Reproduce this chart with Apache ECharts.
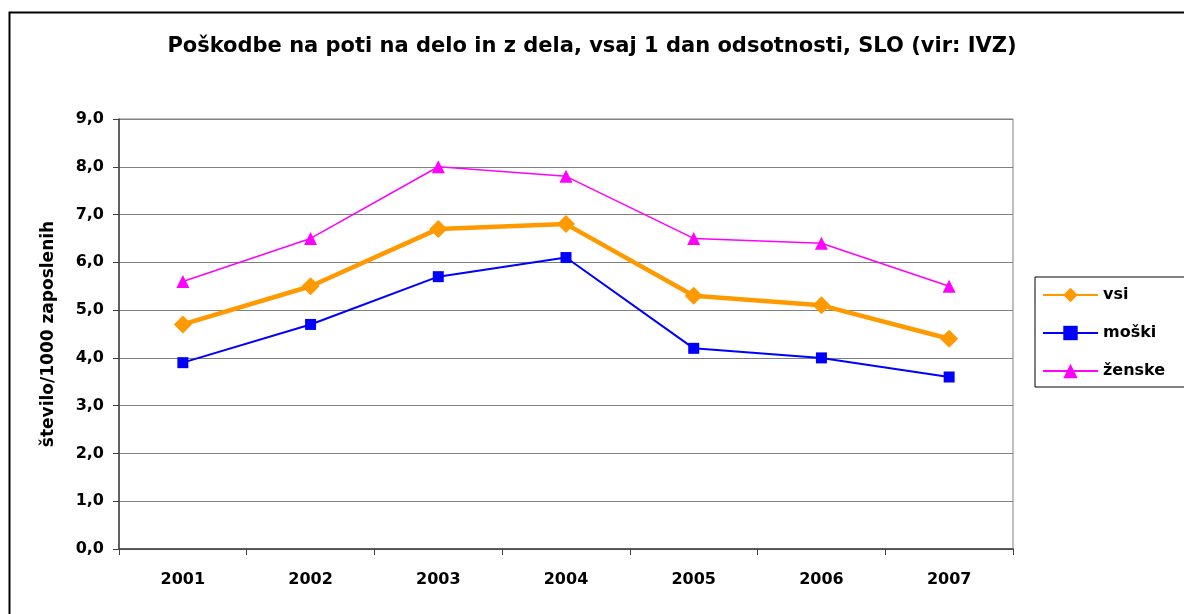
<!DOCTYPE html>
<html lang="sl">
<head>
    <meta charset="UTF-8">
    <script src="https://cdn.jsdelivr.net/npm/echarts@6/dist/echarts.min.js"></script>
    <title>Poškodbe na poti na delo</title>
    <style>
        html, body { margin: 0; padding: 0; background: #fff; }
    </style>
</head>
<body>
<div id="main" style="width: 1184px;height:614px;"></div>
<script type="text/javascript">
    // podatki
    var leta = ['2001', '2002', '2003', '2004', '2005', '2006', '2007'];
    var vsi = [4.7, 5.5, 6.7, 6.8, 5.3, 5.1, 4.4];
    var moski = [3.9, 4.7, 5.7, 6.1, 4.2, 4.0, 3.6];
    var zenske = [5.6, 6.5, 8.0, 7.8, 6.5, 6.4, 5.5];

    var myChart = echarts.init(document.getElementById('main'));
    var font = 'DejaVu Sans, Liberation Sans, Arial, sans-serif';

    var option = {
        backgroundColor: '#fff',
        animation: false,
        title: {
            text: 'Poškodbe na poti na delo in z dela, vsaj 1 dan odsotnosti, SLO (vir: IVZ)',
            left: 'center',
            top: 31,
            textStyle: { fontFamily: font, fontSize: 21, fontWeight: 'bold', color: '#000' }
        },
        graphic: [{
            type: 'rect',
            left: 7, top: 10,
            shape: { width: 1200, height: 700 },
            style: { fill: 'none', stroke: '#000', lineWidth: 2 },
            silent: true
        }],
        legend: {
            orient: 'vertical',
            left: 1035,
            top: 277,
            padding: [10, 40, 8, 7],
            itemWidth: 55,
            itemHeight: 18,
            itemGap: 22,
            borderColor: '#000',
            borderWidth: 1,
            textStyle: { fontFamily: font, fontSize: 16, fontWeight: 'bold', color: '#000' },
            data: ['vsi', 'moški', 'ženske']
        },
        grid: {
            left: 119,
            top: 119,
            width: 894,
            height: 430,
            show: true,
            borderColor: '#808080',
            borderWidth: 1
        },
        xAxis: {
            type: 'category',
            data: leta,
            boundaryGap: true,
            axisLine: { lineStyle: { color: '#404040', width: 1.5 } },
            axisTick: { show: true, length: 6, lineStyle: { color: '#404040' } },
            axisLabel: { fontFamily: font, fontSize: 16, fontWeight: 'bold', color: '#000', margin: 23 }
        },
        yAxis: {
            type: 'value',
            min: 0,
            max: 9,
            interval: 1,
            name: 'število/1000 zaposlenih',
            nameLocation: 'middle',
            nameGap: 62,
            nameTextStyle: { fontFamily: font, fontSize: 17, fontWeight: 'bold', color: '#000' },
            axisLine: { show: true, lineStyle: { color: '#404040', width: 1.5 } },
            axisTick: { show: true, length: 6, lineStyle: { color: '#404040' } },
            splitLine: { lineStyle: { color: '#808080', width: 1 } },
            axisLabel: {
                fontFamily: font, fontSize: 16, fontWeight: 'bold', color: '#000', margin: 15,
                formatter: function (v) { return v.toFixed(1).replace('.', ','); }
            }
        },
        series: [{
            name: 'vsi',
            type: 'line',
            data: vsi,
            symbol: 'diamond',
            symbolSize: 18,
            lineStyle: { color: '#FF9900', width: 4.5 },
            itemStyle: { color: '#FF9900' }
        }, {
            name: 'moški',
            type: 'line',
            data: moski,
            symbol: 'rect',
            symbolSize: 11,
            lineStyle: { color: '#0000FF', width: 2 },
            itemStyle: { color: '#0000FF' }
        }, {
            name: 'ženske',
            type: 'line',
            data: zenske,
            symbol: 'triangle',
            symbolSize: 13,
            lineStyle: { color: '#FF00FF', width: 1.5 },
            itemStyle: { color: '#FF00FF' }
        }]
    };

    myChart.setOption(option);
</script>
</body>
</html>
